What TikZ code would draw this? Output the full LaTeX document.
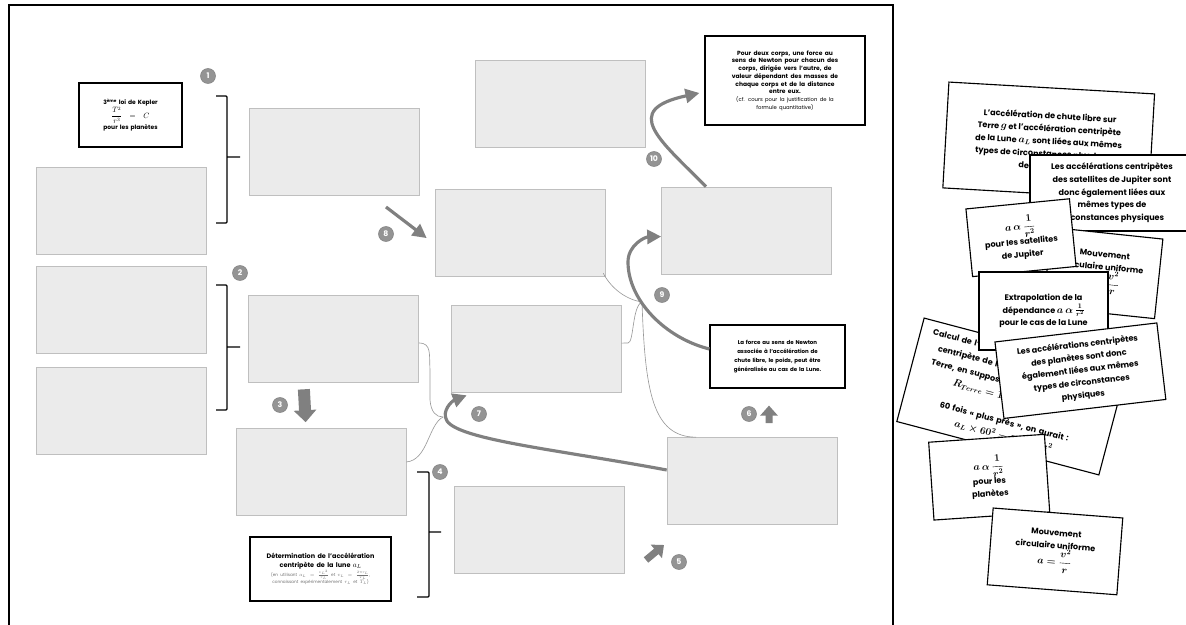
\documentclass[tikz,border=0pt]{standalone}
\usepackage{amsmath}
\usepackage{fontspec}
\setmainfont{Poppins}
\usetikzlibrary{arrows.meta,positioning}
\newcommand{\mth}[1]{{\fontsize{14}{17}\selectfont$#1$}}
\tikzset{blank/.style={draw=black!25, line width=0.9pt, fill=black!8, minimum width=8.5cm, minimum height=4.35cm, inner sep=0pt}}
\tikzset{txtbox/.style={draw, line width=1.6pt, fill=white, align=center, inner sep=0pt}}
\tikzset{card/.style={draw, line width=1.6pt, fill=white, align=center, inner sep=0pt, font=\bfseries\boldmath\fontsize{11.5}{18}\selectfont}}
\tikzset{num/.style={circle, fill=black!42, draw=black!50, line width=0.8pt, text=white, minimum size=0.75cm, inner sep=0pt, font=\bfseries\fontsize{11}{11}\selectfont}}
\tikzset{brk/.style={line width=1.7pt, rounded corners=1.5pt}}
\tikzset{link/.style={black!40, line width=0.9pt}}
\tikzset{bendarrow/.style={black!50, line width=4.5pt, -{Triangle[length=0.7cm,width=0.7cm]}}}
\tikzset{blockarrow/.style={black!50, line width=0.6cm, -{Triangle[length=0.6cm,width=1.1cm]}}}

\begin{document}
\begin{tikzpicture}[x=0.05cm, y=-0.05cm]
\useasboundingbox (0,0) rectangle (1186,625);
% frame
\draw[line width=1.6pt] (9,625) -- (9,5) -- (893,5) -- (893,625);
% empty boxes
\node[blank] (g1) at (121,210.5) {};
\node[blank] (g2) at (334,152) {};
\node[blank] (g3) at (560,104) {};
\node[blank] (g4) at (520,232.5) {};
\node[blank] (g5) at (746.5,230.5) {};
\node[blank] (g6) at (121,309.5) {};
\node[blank] (g7) at (121,410.5) {};
\node[blank] (g8) at (333.5,338.5) {};
\node[blank] (g9) at (536,348.5) {};
\node[blank] (g10) at (321,472) {};
\node[blank] (g11) at (539,530) {};
\node[blank] (g12) at (752,481) {};
% given boxes
\node[txtbox, minimum width=5.15cm, minimum height=3.2cm, text width=5cm, font=\bfseries\fontsize{8.5}{10}\selectfont] (kepler) at (130.5,115)
  {3\textsuperscript{ème} loi de Kepler\\ {\fontsize{10.5}{12}\selectfont$\dfrac{T^2}{r^3} = C$}\\ pour les planètes};
\node[txtbox, minimum width=8cm, minimum height=4.45cm, text width=7.8cm] (newton) at (785,80.5)
  {\bfseries\fontsize{8.5}{11}\selectfont Pour deux corps, une force au\\ sens de Newton pour chacun des\\ corps, dirigée vers l'autre, de\\ valeur dépendant des masses de\\ chaque corps et de la distance\\ entre eux.\par
   \mdseries\fontsize{7.5}{11}\selectfont (cf. cours pour la justification de la\\ formule quantitative)\par};
\node[txtbox, minimum width=6.75cm, minimum height=3.15cm, text width=6.6cm, font=\bfseries\fontsize{7.8}{13}\selectfont] (force) at (777.5,356.5)
  {La force au sens de Newton\\ associée à l'accélération de\\ chute libre, le poids, peut être\\ généralisée au cas de la Lune.};
\node[txtbox, minimum width=7.05cm, minimum height=3.2cm, text width=6.9cm] (determ) at (320.5,569)
  {\bfseries\fontsize{9.2}{12}\selectfont Détermination de l'accélération\\ centripète de la lune {\fontsize{11}{12}\selectfont$a_L$}\par
   \mdseries\color{black!55}\fontsize{6}{10}\selectfont (en utilisant {\fontsize{7.5}{9}\selectfont$a_L=\frac{{v_L}^2}{r_L}$} et {\fontsize{7.5}{9}\selectfont$v_L=\frac{2\pi r_L}{T_L}$},\\ connaissant expérimentalement {\fontsize{7.5}{9}\selectfont$r_L$} et {\fontsize{7.5}{9}\selectfont$T_L$})\par};
% brackets
\draw[brk] (216,96) -- (227,96) -- (227,223) -- (216,223) (227,157) -- (240,157);
\draw[brk] (216,285) -- (227,285) -- (227,410) -- (216,410) (227,347) -- (240,347);
\draw[brk] (417,472) -- (429,472) -- (429,597) -- (417,597) (429,532) -- (441,532);
% thin links
\coordinate (j7) at (443,417);
\coordinate (j9) at (642,302);
\draw[link] ([yshift=-0.22cm]g8.east) .. controls (432,343) and (429,355) .. (430,370) -- (430,400) .. controls (431,412) and (436,417) .. (j7);
\draw[link] ([yshift=0.5cm]g10.east) .. controls (428,460) and (428,425) .. (j7);
\draw[link] ([shift={(-0.1cm,0.15cm)}]g4.south east) .. controls (612,290) and (628,300) .. (j9);
\draw[link] ([yshift=0.27cm]g9.east) -- (628,343) .. controls (634,343) and (632,306) .. (j9);
\draw[link] (j9) .. controls (645,390) and (652,437) .. ([xshift=-2.8cm]g12.north);
% arrows
\coordinate (a8s) at (386,207);
\coordinate (a5s) at (646,560);
\coordinate (a5e) at (664,545);
\draw[blockarrow, shorten <=0.35cm, shorten >=0.3cm] ([xshift=-1.5cm]g8.south) -- ([xshift=-0.75cm]g10.north);
\draw[blockarrow, line width=0.35cm, -{Triangle[length=0.5cm,width=0.85cm]}, shorten <=0.7cm, shorten >=0.85cm] ([xshift=0.85cm]g12.north) -- ([xshift=-0.425cm]force.south);
\draw[blockarrow, line width=0.35cm, -{Triangle[length=0.5cm,width=0.85cm]}] (a5s) -- (a5e);
\draw[bendarrow] (a8s) -- ([shift={(-0.4cm,-0.28cm)}]g4.west);
\draw[bendarrow] ([xshift=-2.025cm]g5.north) .. controls (660,140) and (620,110) .. ([shift={(-0.25cm,-0.625cm)}]newton.west);
\draw[bendarrow] ([yshift=0.375cm]force.west) .. controls (665,338) and (628,300) .. (628,262) .. controls (628,245) and (645,237) .. ([yshift=-0.3cm]g5.west);
\draw[bendarrow] ([yshift=0.55cm]g12.west) .. controls (560,450) and (460,440) .. (447,421) .. controls (441,411) and (452,401) .. ([shift={(0.8cm,-0.15cm)}]g9.south west);
% step numbers
\node[num] (n1) at (208,76) {1};
\node[num] (n2) at (240,273) {2};
\node[num] (n3) at (280,405) {3};
\node[num] (n4) at (440,472) {4};
\node[num] (n5) at (679,562) {5};
\node[num] (n6) at (749,414) {6};
\node[num] (n7) at (479,414) {7};
\node[num] (n8) at (386,234) {8};
\node[num] (n9) at (662,295) {9};
\node[num] (n10) at (654,159) {10};
% cards
\node[card, minimum width=10.3cm, minimum height=5.3cm, rotate=-3.3] (k1) at (1048.7,140.9)
  {L'accélération de chute libre sur\\ Terre \mth{g} et l'accélération centripète\\ de la Lune \mth{a_L} sont liées aux mêmes\\ types de circonstances physiques :\\ des distances};
\node[card, minimum width=8.2cm, minimum height=3.8cm] (k2) at (1112,193)
  {Les accélérations centripètes\\ des satellites de Jupiter sont\\ donc également liées aux\\ mêmes types de\\ circonstances physiques};
\node[card, minimum width=5.6cm, minimum height=4cm, rotate=-6] (k4) at (1103,273)
  {Mouvement\\ circulaire uniforme\\ \mth{a = \dfrac{v^2}{r}}};
\node[card, minimum width=5.2cm, minimum height=3.4cm, rotate=5.6] (k3) at (1021,237.7)
  {\mth{a\ \alpha\ \dfrac{1}{r^2}}\\ pour les satellites\\ de Jupiter};
\node[card, minimum width=10.45cm, minimum height=5.35cm, rotate=-14.8, align=left, text width=9.2cm, font=\bfseries\boldmath\fontsize{11.5}{21}\selectfont] (k6) at (1011.5,396.5)
  {Calcul de l'accélération\\ \hspace*{0.45cm}centripète de la Lune sur\\ \hspace*{0.3cm}Terre, en supposant\\ \hspace*{1.6cm}\mth{R_{Terre} = 1}, et la Lune\\[14pt] \hspace*{1.25cm}60 fois « plus près », on aurait :\\ \hspace*{2.2cm}\mth{a_L \times 60^2 = 9{,}8\ m/s^2}};
\node[card, minimum width=6.45cm, minimum height=3.9cm] (k5) at (1043.5,311)
  {Extrapolation de la\\ dépendance \mth{a\ \alpha\ \frac{1}{r^2}}\\ pour le cas de la Lune};
\node[card, minimum width=8.15cm, minimum height=3.85cm, rotate=6.7] (k7) at (1080.4,370.7)
  {Les accélérations centripètes\\ des planètes sont donc\\ également liées aux mêmes\\ types de circonstances\\ physiques};
\node[card, minimum width=5.8cm, minimum height=3.9cm, rotate=3.9] (k8) at (989.2,477.2)
  {\mth{a\ \alpha\ \dfrac{1}{r^2}}\\ pour les\\ planètes};
\node[card, minimum width=6.5cm, minimum height=3.85cm, rotate=-4.4] (k9) at (1055,551.4)
  {Mouvement\\ circulaire uniforme\\ \mth{a = \dfrac{v^2}{r}}};
\end{tikzpicture}
\end{document}
